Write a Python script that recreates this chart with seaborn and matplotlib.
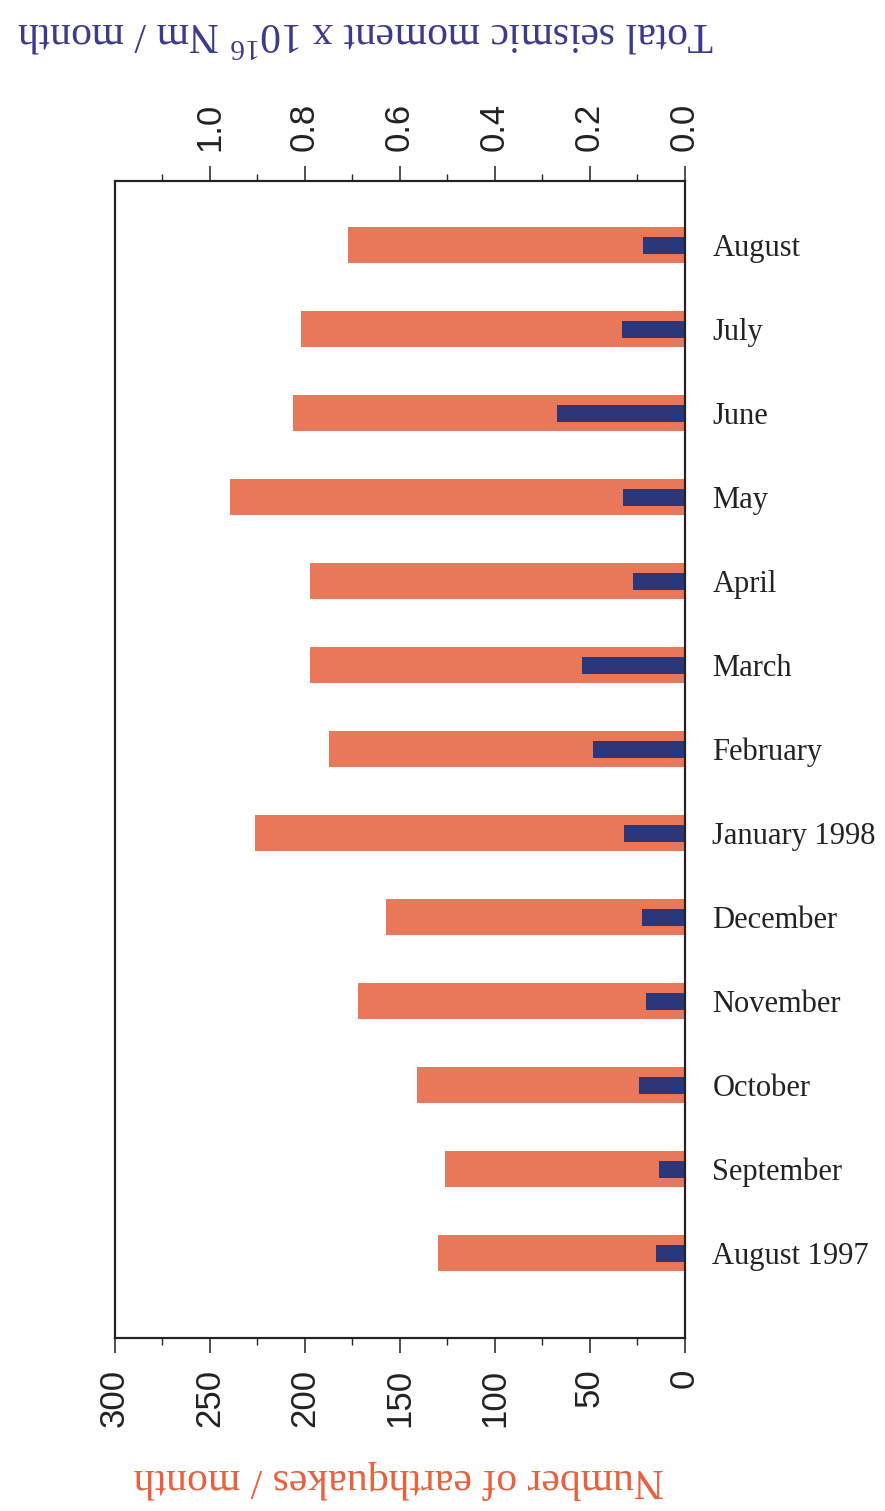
import numpy as np
import pandas as pd
import seaborn as sns
import matplotlib.pyplot as plt

# months from top to bottom of the chart
months = ['August', 'July', 'June', 'May', 'April', 'March', 'February',
          'January 1998', 'December', 'November', 'October', 'September', 'August 1997']
quakes = [177, 202, 206, 239, 197, 197, 187, 226, 157, 172, 141, 126, 130]
moment = [0.087, 0.132, 0.269, 0.130, 0.109, 0.216, 0.193, 0.128, 0.090, 0.081, 0.096, 0.054, 0.060]

count_ticks = [0, 50, 100, 150, 200, 250, 300]
moment_ticks = [0.0, 0.2, 0.4, 0.6, 0.8, 1.0]

orange = '#E9785B'
navy = '#2B3779'

sns.set_style('ticks')
plt.rcParams['font.family'] = ['Liberation Serif', 'DejaVu Serif']
plt.rcParams['mathtext.fontset'] = 'custom'
plt.rcParams['mathtext.rm'] = 'Liberation Serif'

df = pd.DataFrame({'month': months, 'quakes': quakes, 'moment': moment})

fig = plt.figure(figsize=(8.85, 15.11), dpi=100)
ax = fig.add_axes([0.1295, 0.1145, 0.644, 0.7655])

sns.barplot(data=df, x='quakes', y='month', orient='h', color=orange,
            saturation=1, width=0.43, linewidth=0, ax=ax)

ax2 = ax.twiny()
sns.barplot(data=df, x='moment', y='month', orient='h', color=navy,
            saturation=1, width=0.2, linewidth=0, ax=ax2)

# counts: 0 on the right, 300 on the left
ax.set_xlim(300, 0)
ax.set_xticks(count_ticks, labels=[str(t) for t in count_ticks],
              rotation=90, fontfamily='Liberation Sans', fontsize=25)
ax.set_xticks(np.arange(25, 300, 50), minor=True)

ax2.set_xlim(1.2, 0)
ax2.set_xticks(moment_ticks, labels=[f'{t:.1f}' for t in moment_ticks],
               rotation=90, fontfamily='Liberation Sans', fontsize=25)
ax2.set_xticks(np.arange(0.1, 1.2, 0.2), minor=True)

ax.set_ylim(13.01, -0.76)
ax.yaxis.tick_right()
ax.tick_params(axis='y', length=0, pad=20, labelsize=22, labelcolor='#222222')
for lbl in ax.get_yticklabels():
    lbl.set_fontfamily('Liberation Serif')

for a in (ax, ax2):
    a.tick_params(axis='x', which='major', direction='out', length=11, width=1.1,
                  pad=11, colors='#222222')
    a.tick_params(axis='x', which='minor', direction='out', length=5, width=1.0)
    for s in a.spines.values():
        s.set_visible(True)
        s.set_linewidth(1.5)
        s.set_color('#222222')
    a.set_xlabel('')
    a.set_ylabel('')

fig.text(0.451, 0.021, 'Number of earthquakes / month', rotation=180,
         ha='center', va='center', fontsize=30, color='#E8603E')
fig.text(0.413, 0.978, r'Total seismic moment x 10$^{16}$ Nm / month', rotation=180,
         ha='center', va='center', fontsize=30, color='#3A3A8C')

fig.savefig('out.png', dpi=100)
